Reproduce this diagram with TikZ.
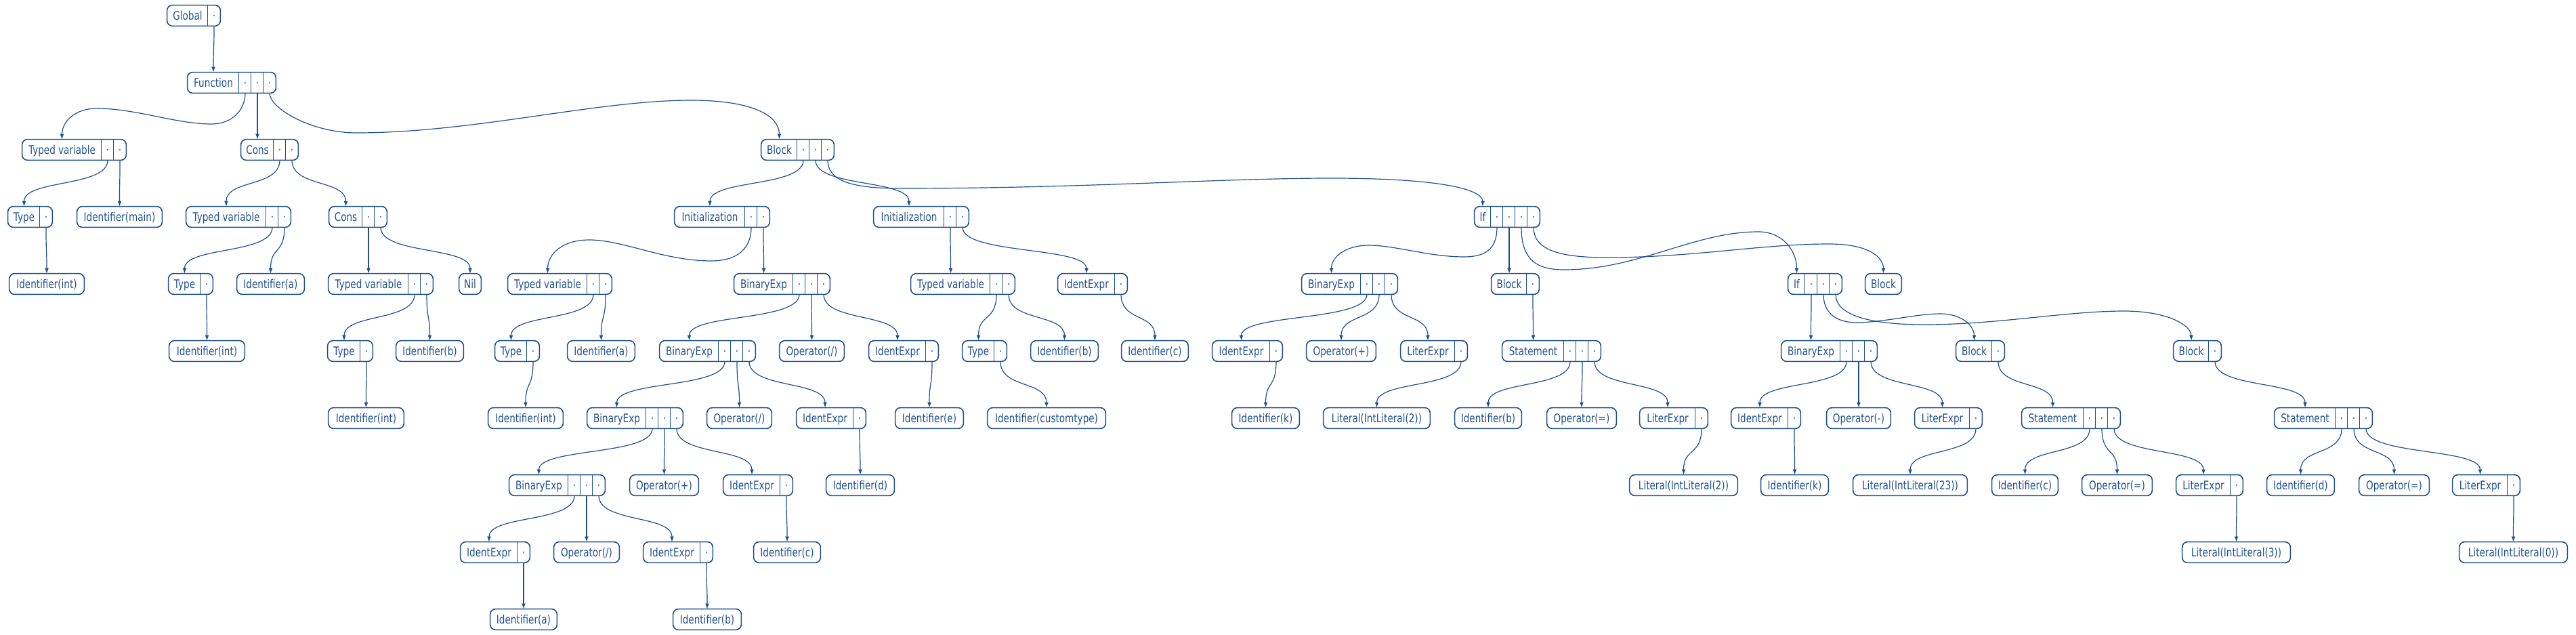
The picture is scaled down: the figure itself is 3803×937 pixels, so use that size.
\documentclass[tikz,border=0pt]{standalone}
\usepackage{fontspec}
\setmainfont[FakeStretch=0.78]{DejaVu Sans}
\usetikzlibrary{arrows.meta}
\definecolor{gv}{RGB}{30,80,145}
\tikzset{
 cell/.style={rectangle, inner sep=0pt, minimum height=15pt, text height=7.3pt, text depth=1pt, align=center, text=gv, font=\fontsize{8.7pt}{10pt}\selectfont},
 boxline/.style={draw=gv, line width=0.8pt},
 edgeline/.style={draw=gv, line width=0.6pt, -{Latex[length=4pt,width=3pt]}},
}
% #1 name, #2 x left, #3 row, #4 label width, #5 fields, #6 text
\newcommand\rec[6]{%
  \pgfmathsetmacro\reccx{#2+#4/2}%
  \pgfmathsetmacro\reccy{23+99*#3}%
  \pgfmathsetmacro\recwd{#4*0.5}%
  \node[cell, minimum width=\recwd pt] (#1) at (\reccx,\reccy) {#6};%
  \ifnum#5>0
    \foreach \k in {1,...,#5} {%
      \pgfmathsetmacro\recfx{#2+#4+18*\k-9}%
      \node[cell, minimum width=9pt] (#1-\k) at (\recfx,\reccy) {\textperiodcentered};%
      \draw[boxline] (#1-\k.north west) -- (#1-\k.south west);%
    }%
    \draw[boxline, rounded corners=4pt] (#1.north west) rectangle (#1-#5.south east);%
  \else
    \draw[boxline, rounded corners=4pt] (#1.north west) rectangle (#1.south east);%
  \fi
}
\newcommand\edg[2]{\draw[edgeline] (#1.south) .. controls +(0,40) and +(0,-40) .. (#2.north);}
\begin{document}
\begin{tikzpicture}[x=0.5pt, y=-0.5pt]
\useasboundingbox (0,0) rectangle (3803,937);
% row 0
\rec{g}{247}{0}{60}{1}{Global}
% row 1
\rec{fn}{277}{1}{76}{3}{Function}
% row 2
\rec{tvA}{33}{2}{117}{2}{Typed variable}
\rec{consA}{356}{2}{48}{2}{Cons}
\rec{blkA}{1124}{2}{53}{3}{Block}
% row 3
\rec{tyA}{12}{3}{47}{1}{Type}
\rec{idmain}{114}{3}{125}{0}{Identifier(main)}
\rec{tvB}{275}{3}{118}{2}{Typed variable}
\rec{consB}{486}{3}{49}{2}{Cons}
\rec{initA}{996}{3}{104}{2}{Initialization}
\rec{initB}{1290}{3}{104}{2}{Initialization}
\rec{ifA}{2177}{3}{24}{4}{If}
% row 4
\rec{idintA}{14}{4}{110}{0}{Identifier(int)}
\rec{tyB}{249}{4}{47}{1}{Type}
\rec{idaA}{350}{4}{99}{0}{Identifier(a)}
\rec{tvC}{485}{4}{118}{2}{Typed variable}
\rec{nil}{678}{4}{32}{0}{Nil}
\rec{tvD}{750}{4}{117}{2}{Typed variable}
\rec{beA}{1084}{4}{87}{3}{BinaryExp}
\rec{tvE}{1345}{4}{117}{2}{Typed variable}
\rec{ieA}{1562}{4}{84}{1}{IdentExpr}
\rec{beB}{1922}{4}{87}{3}{BinaryExp}
\rec{blkB}{2202}{4}{52}{1}{Block}
\rec{ifB}{2640}{4}{25}{3}{If}
\rec{blkC}{2754}{4}{53}{0}{Block}
% row 5
\rec{idintB}{250}{5}{111}{0}{Identifier(int)}
\rec{tyC}{484}{5}{48}{1}{Type}
\rec{idbA}{585}{5}{99}{0}{Identifier(b)}
\rec{tyD}{731}{5}{47}{1}{Type}
\rec{idaB}{838}{5}{99}{0}{Identifier(a)}
\rec{beC}{974}{5}{87}{3}{BinaryExp}
\rec{opA}{1151}{5}{95}{0}{Operator(/)}
\rec{ieB}{1283}{5}{84}{1}{IdentExpr}
\rec{tyE}{1421}{5}{47}{1}{Type}
\rec{idbB}{1522}{5}{99}{0}{Identifier(b)}
\rec{idcA}{1656}{5}{98}{0}{Identifier(c)}
\rec{ieC}{1790}{5}{85}{1}{IdentExpr}
\rec{opB}{1929}{5}{102}{0}{Operator(+)}
\rec{leA}{2068}{5}{80}{1}{LiterExpr}
\rec{stA}{2218}{5}{91}{3}{Statement}
\rec{beD}{2630}{5}{87}{3}{BinaryExp}
\rec{blkD}{2888}{5}{53}{1}{Block}
\rec{blkE}{3209}{5}{52}{1}{Block}
% row 6
\rec{idintC}{485}{6}{111}{0}{Identifier(int)}
\rec{idintD}{721}{6}{110}{0}{Identifier(int)}
\rec{beE}{867}{6}{87}{3}{BinaryExp}
\rec{opC}{1044}{6}{95}{0}{Operator(/)}
\rec{ieD}{1176}{6}{84}{1}{IdentExpr}
\rec{ide}{1322}{6}{100}{0}{Identifier(e)}
\rec{idct}{1458}{6}{174}{0}{Identifier(customtype)}
\rec{idkA}{1819}{6}{99}{0}{Identifier(k)}
\rec{litA}{1954}{6}{157}{0}{Literal(IntLiteral(2))}
\rec{idbC}{2148}{6}{98}{0}{Identifier(b)}
\rec{opD}{2284}{6}{102}{0}{Operator(=)}
\rec{leB}{2421}{6}{82}{1}{LiterExpr}
\rec{ieE}{2556}{6}{84}{1}{IdentExpr}
\rec{opE}{2697}{6}{94}{0}{Operator(-)}
\rec{leC}{2827}{6}{81}{1}{LiterExpr}
\rec{stB}{2985}{6}{91}{3}{Statement}
\rec{stC}{3358}{6}{90}{3}{Statement}
% row 7
\rec{beF}{752}{7}{87}{3}{BinaryExp}
\rec{opF}{930}{7}{101}{0}{Operator(+)}
\rec{ieF}{1068}{7}{84}{1}{IdentExpr}
\rec{iddA}{1220}{7}{100}{0}{Identifier(d)}
\rec{litB}{2406}{7}{159}{0}{Literal(IntLiteral(2))}
\rec{idkB}{2600}{7}{99}{0}{Identifier(k)}
\rec{litC}{2736}{7}{168}{0}{Literal(IntLiteral(23))}
\rec{idcB}{2941}{7}{97}{0}{Identifier(c)}
\rec{opG}{3074}{7}{103}{0}{Operator(=)}
\rec{leD}{3213}{7}{80}{1}{LiterExpr}
\rec{iddB}{3347}{7}{99}{0}{Identifier(d)}
\rec{opH}{3483}{7}{103}{0}{Operator(=)}
\rec{leE}{3621}{7}{81}{1}{LiterExpr}
% row 8
\rec{ieG}{680}{8}{84}{1}{IdentExpr}
\rec{opI}{818}{8}{96}{0}{Operator(/)}
\rec{ieH}{950}{8}{84}{1}{IdentExpr}
\rec{idcC}{1113}{8}{98}{0}{Identifier(c)}
\rec{litD}{3222}{8}{159}{0}{Literal(IntLiteral(3))}
\rec{litE}{3631}{8}{159}{0}{Literal(IntLiteral(0))}
% row 9
\rec{idaC}{724}{9}{98}{0}{Identifier(a)}
\rec{idbD}{994}{9}{100}{0}{Identifier(b)}

% ---------- edges ----------
\edg{g-1}{fn}
\edg{fn-2}{consA}
\edg{tvA-1}{tyA}
\edg{tvA-2}{idmain}
\edg{tyA-1}{idintA}
\edg{consA-1}{tvB}
\edg{consA-2}{consB}
\edg{tvB-1}{tyB}
\edg{tvB-2}{idaA}
\edg{tyB-1}{idintB}
\edg{consB-1}{tvC}
\edg{consB-2}{nil}
\edg{tvC-1}{tyC}
\edg{tvC-2}{idbA}
\edg{tyC-1}{idintC}
\edg{blkA-1}{initA}
\edg{blkA-2}{initB}
\edg{initA-2}{beA}
\edg{tvD-1}{tyD}
\edg{tvD-2}{idaB}
\edg{tyD-1}{idintD}
\edg{beA-1}{beC}
\edg{beA-2}{opA}
\edg{beA-3}{ieB}
\edg{ieB-1}{ide}
\edg{beC-1}{beE}
\edg{beC-2}{opC}
\edg{beC-3}{ieD}
\edg{ieD-1}{iddA}
\edg{beE-1}{beF}
\edg{beE-2}{opF}
\edg{beE-3}{ieF}
\edg{ieF-1}{idcC}
\edg{beF-1}{ieG}
\edg{beF-2}{opI}
\edg{beF-3}{ieH}
\edg{ieG-1}{idaC}
\edg{ieH-1}{idbD}
\edg{initB-1}{tvE}
\edg{initB-2}{ieA}
\edg{tvE-1}{tyE}
\edg{tvE-2}{idbB}
\edg{tyE-1}{idct}
\edg{ieA-1}{idcA}
\edg{ifA-2}{blkB}
\edg{beB-1}{ieC}
\edg{beB-2}{opB}
\edg{beB-3}{leA}
\edg{ieC-1}{idkA}
\edg{leA-1}{litA}
\edg{blkB-1}{stA}
\edg{stA-1}{idbC}
\edg{stA-2}{opD}
\edg{stA-3}{leB}
\edg{leB-1}{litB}
\edg{ifB-1}{beD}
\edg{beD-1}{ieE}
\edg{beD-2}{opE}
\edg{beD-3}{leC}
\edg{ieE-1}{idkB}
\edg{leC-1}{litC}
\edg{blkD-1}{stB}
\edg{stB-1}{idcB}
\edg{stB-2}{opG}
\edg{stB-3}{leD}
\edg{leD-1}{litD}
\edg{blkE-1}{stC}
\edg{stC-1}{iddB}
\edg{stC-2}{opH}
\edg{stC-3}{leE}
\edg{leE-1}{litE}
% long routed edges
\draw[edgeline] (fn-1.south) .. controls (362,160) and (345,183) .. (312,183) .. controls (260,183) and (200,160) .. (143,160) .. controls (110,160) and (91.5,180) .. (tvA.north);
\draw[edgeline] (fn-3.south) .. controls (398,160) and (460,196) .. (526,196) .. controls (700,196) and (880,148) .. (1020,148) .. controls (1110,148) and (1150.5,170) .. (blkA.north);
\draw[edgeline] (blkA-3.south) .. controls (1222,268) and (1260,278) .. (1330,278) .. controls (1600,278) and (1800,263) .. (1965,263) .. controls (2130,263) and (2189,280) .. (ifA.north);
\draw[edgeline] (initA-1.south) .. controls (1109,372) and (1082,385) .. (1050,385) .. controls (980,385) and (920,354) .. (870,354) .. controls (830,354) and (808.5,375) .. (tvD.north);
\draw[edgeline] (ifA-1.south) .. controls (2210,370) and (2190,379) .. (2161,379) .. controls (2110,379) and (2060,362) .. (2021,362) .. controls (1985,362) and (1965.5,380) .. (beB.north);
\draw[edgeline] (ifA-3.south) .. controls (2246,385) and (2270,398) .. (2309,398) .. controls (2420,398) and (2500,342) .. (2596,342) .. controls (2632,342) and (2652.5,370) .. (ifB.north);
\draw[edgeline] (ifA-4.south) .. controls (2264,368) and (2300,380) .. (2372,380) .. controls (2500,380) and (2600,360) .. (2700,360) .. controls (2760,360) and (2780.5,380) .. (blkC.north);
\draw[edgeline] (ifB-2.south) .. controls (2692,465) and (2715,477) .. (2745,476) .. controls (2790,474) and (2830,463) .. (2865,463) .. controls (2895,463) and (2914.5,480) .. (blkD.north);
\draw[edgeline] (ifB-3.south) .. controls (2710,465) and (2760,479) .. (2841,479) .. controls (2950,479) and (3050,459) .. (3136,459) .. controls (3200,459) and (3235,480) .. (blkE.north);
\end{tikzpicture}
\end{document}
